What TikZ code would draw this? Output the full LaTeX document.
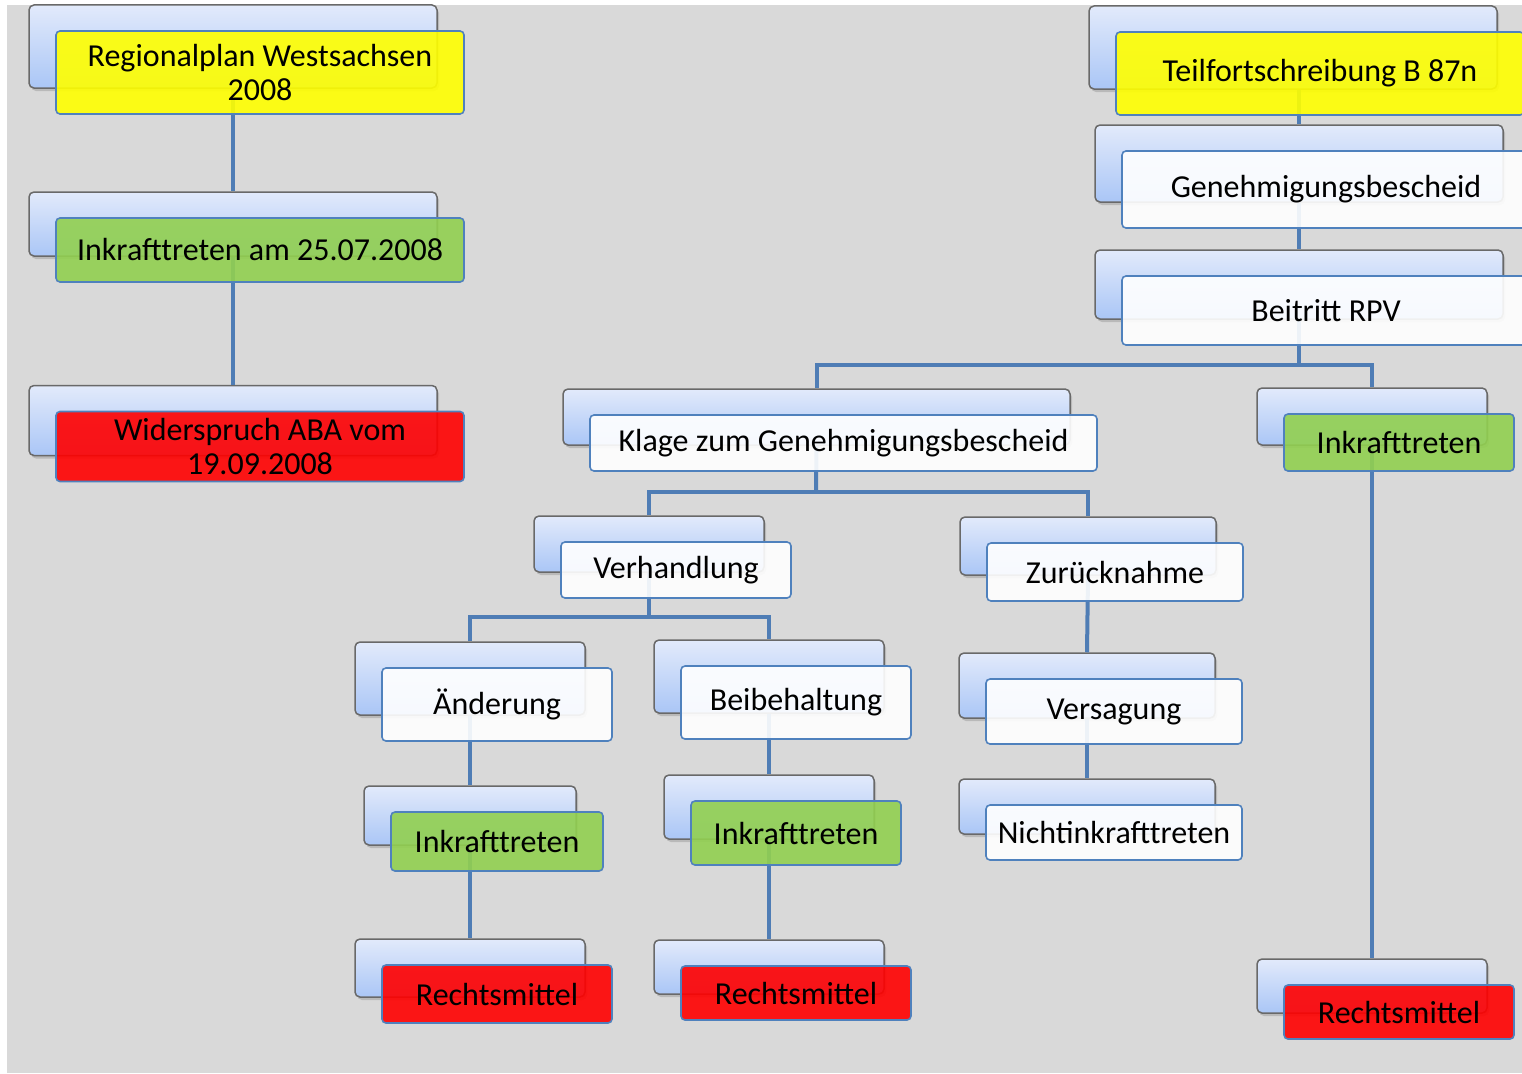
\documentclass[tikz,border=0pt]{standalone}
\usepackage{fontspec}
\setmainfont{Carlito}
\usepackage{tikz}
\usetikzlibrary{shadows,calc}
\pgfdeclarelayer{grund}
\pgfdeclarelayer{hinten}
\pgfdeclarelayer{linien}
\pgfsetlayers{grund,hinten,linien,main}

\definecolor{hgrau}{RGB}{217,217,217}
\definecolor{linie}{RGB}{79,125,181}
\definecolor{rand}{RGB}{79,129,189}
\definecolor{gelb}{RGB}{255,255,0}
\definecolor{gruen}{RGB}{146,208,80}
\definecolor{rot}{RGB}{255,0,0}
\definecolor{weiss}{RGB}{255,255,255}
\definecolor{blauoben}{RGB}{226,234,251}
\definecolor{blauunten}{RGB}{170,198,246}
\definecolor{dunkelrand}{RGB}{105,105,105}

\def\VX{27}
\def\VY{26}

\tikzset{
	rueckbox/.style={draw=dunkelrand, line width=1.5pt, rounded corners=5pt,
		top color=blauoben, bottom color=blauunten,
		drop shadow={shadow xshift=2pt, shadow yshift=-3pt, opacity=0.35}},
	vorderbox/.style={draw=rand, line width=1.6pt, rounded corners=4pt,
		fill opacity=0.9, draw opacity=1, text opacity=1, align=center,
		inner sep=0pt, font=\fontsize{32}{34}\selectfont},
	verbinder/.style={draw=linie, line width=4pt}
}

% name, x, y (Mitte vorne), Breite, Hoehe, Farbe, Text
\newcommand{\kasten}[7]{%
	\begin{pgfonlayer}{hinten}
		\node[rueckbox, minimum width=#4pt, minimum height=#5pt] (#1-b) at (#2-\VX,#3-\VY) {};
	\end{pgfonlayer}
	\node[vorderbox, fill=#6, minimum width=#4pt, minimum height=#5pt] (#1) at (#2,#3) {#7};
}

\begin{document}
\begin{tikzpicture}[x=1pt,y=-1pt]
			\useasboundingbox (0,0) rectangle (1522,1073);
			\begin{pgfonlayer}{grund}
				\fill[hgrau] (7,5) rectangle (1522,1073);
			\end{pgfonlayer}

			\kasten{reg}{260}{72.5}{408}{83}{gelb}{Regionalplan Westsachsen\\2008}
			\kasten{ink1}{260}{250}{408}{64}{gruen}{Inkrafttreten am 25.07.2008}
			\kasten{wid}{260}{446.5}{408}{70}{rot}{Widerspruch ABA vom\\19.09.2008}

			\kasten{teil}{1320}{73.5}{408}{83}{gelb}{Teilfortschreibung B 87n}
			\kasten{gen}{1326}{189.5}{408}{77}{weiss}{Genehmigungsbescheid}
			\kasten{beit}{1326}{310.5}{408}{69}{weiss}{Beitritt RPV}
			\kasten{klage}{843.5}{443}{507}{56}{weiss}{Klage zum Genehmigungsbescheid}
			\kasten{ink2}{1399}{442.5}{230}{57}{gruen}{Inkrafttreten}
			\kasten{verh}{676}{570}{230}{56}{weiss}{Verhandlung}
			\kasten{zur}{1115}{572}{256}{58}{weiss}{Zurücknahme}
			\kasten{aend}{497}{704.5}{230}{73}{weiss}{Änderung}
			\kasten{beib}{796}{702.5}{230}{73}{weiss}{Beibehaltung}
			\kasten{vers}{1114}{711.5}{256}{65}{weiss}{Versagung}
			\kasten{ink3}{497}{841.5}{212}{59}{gruen}{Inkrafttreten}
			\kasten{ink4}{796}{833}{210}{64}{gruen}{Inkrafttreten}
			\kasten{nicht}{1114}{832.5}{256}{55}{weiss}{Nichtinkrafttreten}
			\kasten{rm1}{497}{994}{230}{58}{rot}{Rechtsmittel}
			\kasten{rm2}{796}{993}{230}{54}{rot}{Rechtsmittel}
			\kasten{rm3}{1399}{1012}{230}{54}{rot}{Rechtsmittel}

			\coordinate (k1) at (1299,365);
			\coordinate (k2) at (816,492);
			\coordinate (k3) at (649,617);

			\begin{pgfonlayer}{linien}
				\draw[verbinder] (reg-b.south) -- (ink1-b.north);
				\draw[verbinder] (ink1-b.south) -- (wid-b.north);
				\draw[verbinder] (teil-b.south -| gen-b.north) -- (gen-b.north);
				\draw[verbinder] (gen-b.south) -- (beit-b.north);
				\draw[verbinder] (beit-b.south) -- (k1);
				\draw[verbinder] (klage-b.north) |- (k1) -| (ink2-b.north);
				\draw[verbinder] (klage-b.south) -- (k2);
				\draw[verbinder] (verh-b.north) |- (k2) -| (zur-b.north);
				\draw[verbinder] (verh-b.south) -- (k3);
				\draw[verbinder] (aend-b.north) |- (k3) -| (beib-b.north);
				\draw[verbinder] (aend-b.south) -- (ink3-b.north);
				\draw[verbinder] (ink3-b.south) -- (rm1-b.north);
				\draw[verbinder] (beib-b.south) -- (ink4-b.north);
				\draw[verbinder] (ink4-b.south) -- (rm2-b.north);
				\draw[verbinder] (zur-b.south) -- (vers-b.north);
				\draw[verbinder] (vers-b.south) -- (nicht-b.north);
				\draw[verbinder] (ink2-b.south) -- (rm3-b.north);
			\end{pgfonlayer}
\end{tikzpicture}
\end{document}
